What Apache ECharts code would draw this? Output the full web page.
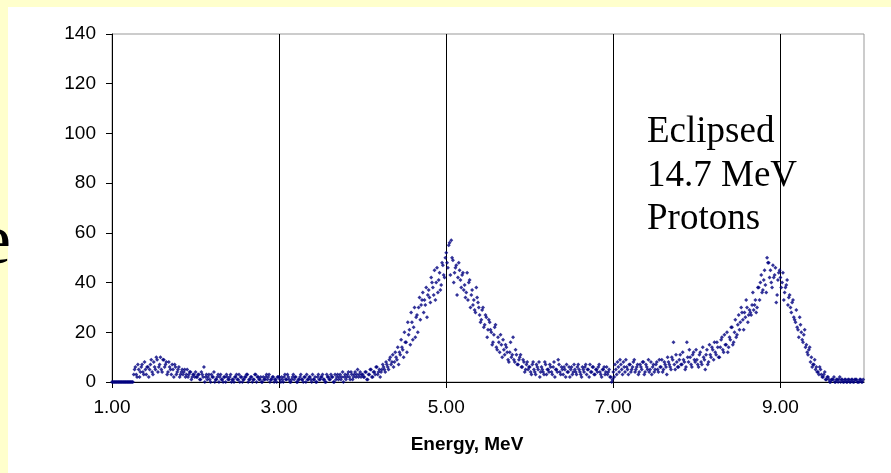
<!DOCTYPE html>
<html>
<head>
<meta charset="utf-8">
<script src="https://cdn.jsdelivr.net/npm/echarts@6/dist/echarts.min.js"></script>
<style>
	html, body { margin: 0; padding: 0; background: #ffffcc; }
	#main { width: 891px; height: 473px; }
</style>
</head>
<body>
<div id="main"></div>
<script>
// channel spacing inside each list, MeV (odd channels sit half a step later)
var energyStep = 0.02;

// even channels, one list per 1 MeV band
var band1 = [0, 0, 0, 0, 0, 0, 0, 0, 0, 0, 0, 0, 0, 3, 6, 2, 5, 4, 7, 3, 5, 6, 2, 7, 4, 8, 5, 9, 6, 10, 4, 9, 7, 3, 8, 5, 7, 2, 6, 4, 6, 3, 5, 4, 2, 5, 3, 4, 2, 3];
var band2 = [4, 2, 3, 1, 3, 6, 2, 1, 3, 0, 2, 4, 1, 2, 0, 3, 1, 2, 0, 2, 1, 3, 1, 0, 2, 1, 3, 2, 0, 1, 2, 3, 1, 2, 0, 1, 3, 2, 1, 2, 0, 1, 2, 1, 3, 1, 2, 0, 1, 2];
var band3 = [2, 0, 1, 2, 1, 3, 1, 0, 2, 1, 2, 0, 1, 3, 1, 2, 0, 1, 2, 1, 3, 1, 0, 2, 1, 2, 3, 1, 0, 2, 1, 3, 2, 0, 1, 3, 2, 1, 4, 2, 1, 3, 2, 4, 1, 3, 2, 5, 3, 2];
var band4 = [3, 2, 4, 1, 3, 5, 2, 4, 6, 3, 5, 4, 7, 5, 8, 6, 9, 7, 11, 8, 10, 14, 12, 17, 13, 20, 16, 24, 21, 28, 17, 30, 26, 20, 34, 31, 36, 33, 38, 35, 34, 42, 38, 45, 40, 36, 44, 39, 47, 42];
var band5 = [52, 46, 56, 57, 49, 44, 47, 42, 45, 38, 44, 39, 36, 33, 41, 35, 31, 29, 38, 32, 27, 25, 30, 23, 26, 21, 24, 20, 16, 22, 14, 18, 12, 15, 17, 11, 14, 9, 12, 10, 18, 8, 11, 7, 10, 6, 9, 4, 7, 5];
var band6 = [6, 3, 8, 4, 7, 5, 2, 6, 4, 8, 3, 5, 7, 4, 6, 2, 5, 9, 4, 6, 3, 5, 7, 4, 2, 6, 4, 5, 3, 7, 4, 2, 5, 6, 3, 5, 7, 4, 6, 3, 5, 6, 4, 2, 5, 3, 6, 4, 2, 0];
var band7 = [4, 7, 3, 6, 9, 5, 8, 4, 6, 3, 7, 5, 8, 4, 6, 3, 7, 5, 8, 4, 6, 9, 5, 3, 7, 5, 8, 4, 6, 9, 5, 7, 3, 8, 6, 10, 16, 5, 8, 6, 11, 7, 9, 5, 16, 8, 10, 6, 12, 8];
var band8 = [9, 6, 12, 7, 10, 5, 13, 8, 11, 14, 9, 12, 16, 10, 14, 18, 12, 15, 20, 14, 17, 22, 16, 25, 19, 27, 24, 28, 21, 26, 30, 27, 28, 31, 29, 33, 30, 38, 40, 36, 41, 39, 50, 48, 45, 38, 42, 46, 35, 44];
var band9 = [42, 40, 33, 38, 41, 34, 30, 32, 26, 24, 22, 18, 23, 17, 19, 14, 12, 13, 8, 6, 7, 5, 4, 3, 5, 2, 3, 1, 2, 1, 0, 1, 2, 0, 1, 1, 0, 1, 0, 1, 0, 1, 0, 1, 0, 1, 0, 0, 1, 0];

// odd channels, one list per 1 MeV band
var band1b = [0, 0, 0, 0, 0, 0, 0, 0, 0, 0, 0, 0, 0, 5, 3, 7, 2, 6, 4, 8, 3, 6, 5, 9, 3, 6, 10, 4, 7, 5, 9, 6, 8, 4, 6, 3, 5, 7, 3, 5, 2, 4, 3, 5, 3, 2, 4, 1, 3, 2];
var band2b = [2, 3, 1, 4, 2, 0, 3, 2, 1, 3, 2, 0, 1, 3, 2, 1, 0, 2, 3, 1, 2, 0, 1, 2, 3, 1, 0, 2, 1, 2, 3, 0, 1, 2, 1, 3, 0, 2, 1, 0, 2, 1, 3, 2, 0, 1, 2, 1, 0, 2];
var band3b = [1, 2, 0, 3, 1, 2, 0, 1, 3, 2, 0, 1, 2, 1, 0, 2, 3, 1, 2, 0, 1, 2, 0, 3, 1, 2, 1, 0, 3, 2, 1, 2, 0, 3, 2, 1, 3, 2, 0, 3, 2, 4, 1, 3, 2, 4, 3, 2, 4, 3];
var band4b = [2, 4, 1, 3, 5, 2, 4, 3, 6, 4, 2, 5, 6, 4, 7, 5, 10, 8, 6, 12, 9, 7, 11, 14, 10, 16, 12, 19, 15, 24, 22, 18, 27, 30, 25, 33, 28, 31, 26, 37, 32, 40, 35, 33, 46, 41, 37, 48, 43, 50];
var band5b = [48, 55, 43, 50, 40, 46, 35, 48, 41, 43, 37, 34, 44, 40, 30, 37, 33, 28, 34, 30, 24, 29, 22, 27, 18, 25, 21, 15, 19, 23, 13, 16, 19, 10, 13, 15, 12, 8, 16, 11, 9, 13, 7, 9, 11, 6, 8, 5, 8, 6];
var band6b = [4, 7, 5, 3, 6, 8, 4, 5, 3, 7, 5, 4, 6, 3, 8, 5, 4, 7, 3, 5, 6, 2, 4, 6, 5, 3, 7, 4, 6, 5, 3, 6, 4, 7, 5, 2, 4, 6, 3, 5, 4, 7, 3, 5, 6, 4, 3, 5, 2, 1];
var band7b = [2, 5, 8, 4, 7, 3, 6, 9, 5, 7, 4, 6, 9, 5, 7, 4, 6, 8, 3, 7, 5, 4, 8, 6, 4, 7, 5, 9, 6, 4, 8, 6, 10, 7, 5, 9, 7, 11, 6, 9, 7, 12, 8, 6, 10, 13, 7, 11, 9, 13];
var band8b = [7, 11, 8, 14, 9, 11, 7, 15, 10, 13, 16, 11, 14, 10, 17, 13, 19, 15, 12, 18, 22, 15, 20, 18, 23, 21, 30, 25, 28, 33, 24, 29, 27, 36, 31, 28, 38, 33, 43, 37, 45, 36, 48, 42, 40, 47, 43, 32, 41, 45];
var band9b = [38, 44, 36, 39, 31, 35, 28, 33, 25, 29, 21, 26, 20, 16, 21, 15, 11, 14, 10, 7, 9, 6, 4, 6, 3, 2, 4, 1, 2, 0, 1, 1, 0, 1, 0, 2, 1, 0, 1, 0, 1, 0, 1, 0, 1, 1, 0, 1, 0, 1];

var bands = [
	[1.00, band1], [2.00, band2], [3.00, band3], [4.00, band4], [5.00, band5],
	[6.00, band6], [7.00, band7], [8.00, band8], [9.00, band9],
	[1.01, band1b], [2.01, band2b], [3.01, band3b], [4.01, band4b], [5.01, band5b],
	[6.01, band6b], [7.01, band7b], [8.01, band8b], [9.01, band9b]
];

var xTicks = [1, 3, 5, 7, 9];
var yTicks = [0, 20, 40, 60, 80, 100, 120, 140];

var noteLines = ['Eclipsed', '14.7 MeV', 'Protons'];
var xTitle = 'Energy, MeV';

var points = [];
bands.forEach(function (b) {
	b[1].forEach(function (v, i) {
		points.push([+(b[0] + i * energyStep).toFixed(2), v]);
	});
});

var dom = document.getElementById('main');
var myChart = echarts.init(dom, null, { renderer: 'canvas' });

var option = {
	backgroundColor: '#ffffcc',
	animation: false,
	grid: {
		left: 112,
		right: 27,
		top: 34,
		bottom: 91,
		show: true,
		backgroundColor: '#ffffff',
		borderColor: '#999999',
		borderWidth: 1
	},
	xAxis: {
		type: 'value',
		min: xTicks[0],
		max: 10,
		interval: 2,
		axisLine: { lineStyle: { color: '#000', width: 1 } },
		axisTick: { show: true, length: 6, lineStyle: { color: '#000' } },
		axisLabel: {
			color: '#000',
			fontFamily: 'Arial, "Liberation Sans", sans-serif',
			fontSize: 19,
			margin: 16,
			showMaxLabel: false,
			formatter: function (v) { return v.toFixed(2); }
		},
		splitLine: {
			show: true,
			showMinLine: false,
			showMaxLine: false,
			lineStyle: { color: '#000', width: 1 }
		}
	},
	yAxis: {
		type: 'value',
		min: yTicks[0],
		max: yTicks[yTicks.length - 1],
		interval: 20,
		axisLine: { show: true, lineStyle: { color: '#000', width: 1 } },
		axisTick: { show: true, length: 6, lineStyle: { color: '#000' } },
		axisLabel: {
			color: '#000',
			fontFamily: 'Arial, "Liberation Sans", sans-serif',
			fontSize: 19,
			margin: 16
		},
		splitLine: { show: false }
	},
	graphic: [
		{
			type: 'rect',
			z: -10,
			shape: { x: 8, y: 7, width: 883, height: 466 },
			style: { fill: '#ffffff' }
		},
		{
			type: 'text',
			z: 10,
			x: 11,
			y: 244,
			style: {
				text: 'e',
				font: '72px "Liberation Serif", "Times New Roman", serif',
				fill: '#000',
				align: 'right',
				verticalAlign: 'middle'
			}
		},
		{
			type: 'text',
			z: 10,
			x: 647,
			y: 111,
			style: {
				text: noteLines.join('\n'),
				font: '37px "Liberation Serif", "Times New Roman", serif',
				lineHeight: 43.5,
				fill: '#000',
				align: 'left',
				verticalAlign: 'top'
			}
		},
		{
			type: 'text',
			z: 10,
			x: 467,
			y: 445,
			style: {
				text: xTitle,
				font: 'bold 19px Arial, "Liberation Sans", sans-serif',
				fill: '#000',
				align: 'center',
				verticalAlign: 'middle'
			}
		}
	],
	series: [{
		type: 'scatter',
		symbol: 'diamond',
		symbolSize: 4,
		itemStyle: { color: '#000080' },
		data: points
	}]
};

myChart.setOption(option);
window.addEventListener('resize', myChart.resize);
</script>
</body>
</html>
